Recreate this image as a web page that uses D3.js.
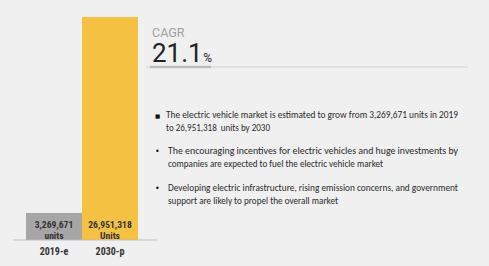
<!DOCTYPE html>
<html><head><meta charset="utf-8">
<script src="https://cdn.jsdelivr.net/npm/d3@7"></script>
<style>html,body{margin:0;padding:0;background:#f0f0f0;}svg{display:block;}</style>
</head><body>
<svg id="c" width="489" height="266"></svg>
<script>
const categories = ["2019-e", "2030-p"];
const values = [3269671, 26951318];
const valueLabels = ["3,269,671", "26,951,318"];
const unitLabels = ["units", "Units"];
const barColors = ["#a6a6a6", "#f4c142"];
const cagrTitle = "CAGR";
const cagrValue = "21.1";
const bullets = [
  ["The electric vehicle market is estimated to grow from 3,269,671 units in 2019", "to 26,951,318  units by 2030"],
  ["The encouraging incentives for electric vehicles and huge investments by", "companies are expected to fuel the electric vehicle market"],
  ["Developing electric infrastructure, rising emission concerns, and government", "support are likely to propel the overall market"]
];

const svg = d3.select("#c");
svg.append("rect").attr("width", 489).attr("height", 266).attr("fill", "#f0f0f0");

const x = d3.scaleBand().domain(categories).range([26, 138]).padding(0);
const y = d3.scaleLinear().domain([0, d3.max(values)]).range([240, 17]);

svg.selectAll("rect.bar").data(values).join("rect").attr("class", "bar")
  .attr("x", (d, i) => x(categories[i]))
  .attr("width", x.bandwidth())
  .attr("y", d => y(d))
  .attr("height", d => y(0) - y(d))
  .attr("fill", (d, i) => barColors[i]);

const lblFont = "'Liberation Sans Narrow','Arial Narrow','Roboto Condensed','Liberation Sans',sans-serif";
svg.selectAll("text.val").data(valueLabels).join("text").attr("class", "val")
  .attr("x", (d, i) => x(categories[i]) + x.bandwidth() / 2)
  .attr("y", 227.5).attr("text-anchor", "middle")
  .attr("font-family", lblFont).attr("font-weight", "bold").attr("font-size", 9.6)
  .attr("fill", "#333").text(d => d);
svg.selectAll("text.unit").data(unitLabels).join("text").attr("class", "unit")
  .attr("x", (d, i) => x(categories[i]) + x.bandwidth() / 2)
  .attr("y", 238.5).attr("text-anchor", "middle")
  .attr("font-family", lblFont).attr("font-weight", "bold").attr("font-size", 9.6)
  .attr("fill", "#333").text(d => d);

// baseline
svg.append("line").attr("x1", 13).attr("x2", 157).attr("y1", 240).attr("y2", 240)
  .attr("stroke", "#bdbdbd").attr("stroke-width", 1);

// x axis labels
const xAxis = d3.axisBottom(x).tickSize(0).tickPadding(6);
const gx = svg.append("g").attr("transform", "translate(0,244)").call(xAxis);
gx.select(".domain").remove();
gx.selectAll("text").attr("font-family", lblFont).attr("font-weight", "bold")
  .attr("font-size", 10).attr("fill", "#333").attr("dy", "0.45em");

// CAGR block
svg.append("text").attr("x", 152).attr("y", 36.5).attr("font-family", "Roboto, 'Liberation Sans', sans-serif")
  .attr("font-size", 12.5).attr("fill", "#a0a0a0").text(cagrTitle);
const cv = svg.append("text").attr("x", 152).attr("y", 62).attr("font-family", "Roboto, 'Liberation Sans', sans-serif")
  .attr("fill", "#222");
cv.append("tspan").attr("font-size", 26).text(cagrValue);
cv.append("tspan").attr("font-size", 12).attr("dx", 0.5).text("%");
svg.append("line").attr("x1", 146).attr("x2", 468).attr("y1", 67).attr("y2", 67)
  .attr("stroke", "#d0d0d0").attr("stroke-width", 1);
svg.append("line").attr("x1", 150).attr("x2", 211).attr("y1", 67).attr("y2", 67)
  .attr("stroke", "#bbbbbb").attr("stroke-width", 2.5);

// bullets
const bFont = "Carlito, Lato, 'Open Sans', sans-serif";
const ys = [[117.5, 131], [154, 167], [191, 203.5]];
const bx = [166, 168, 168];
const ends = [[458, 270], [458, 383], [458, 338]];
bullets.forEach((lines, i) => {
  svg.append("text").attr("x", 155).attr("y", ys[i][0]).attr("font-family", "'DejaVu Sans', sans-serif")
    .attr("font-size", i === 0 ? 5.5 : 8).attr("fill", "#111").text(i === 0 ? "\u25A0" : "\u2022");
  lines.forEach((t, j) => {
    svg.append("text").attr("x", bx[i]).attr("y", ys[i][j])
      .attr("font-family", bFont).attr("font-size", 9.4).attr("fill", "#2a2a2a")
      .attr("xml:space", "preserve")
      .attr("textLength", ends[i][j] - bx[i]).attr("lengthAdjust", "spacingAndGlyphs")
      .text(t);
  });
});
</script>
</body></html>
